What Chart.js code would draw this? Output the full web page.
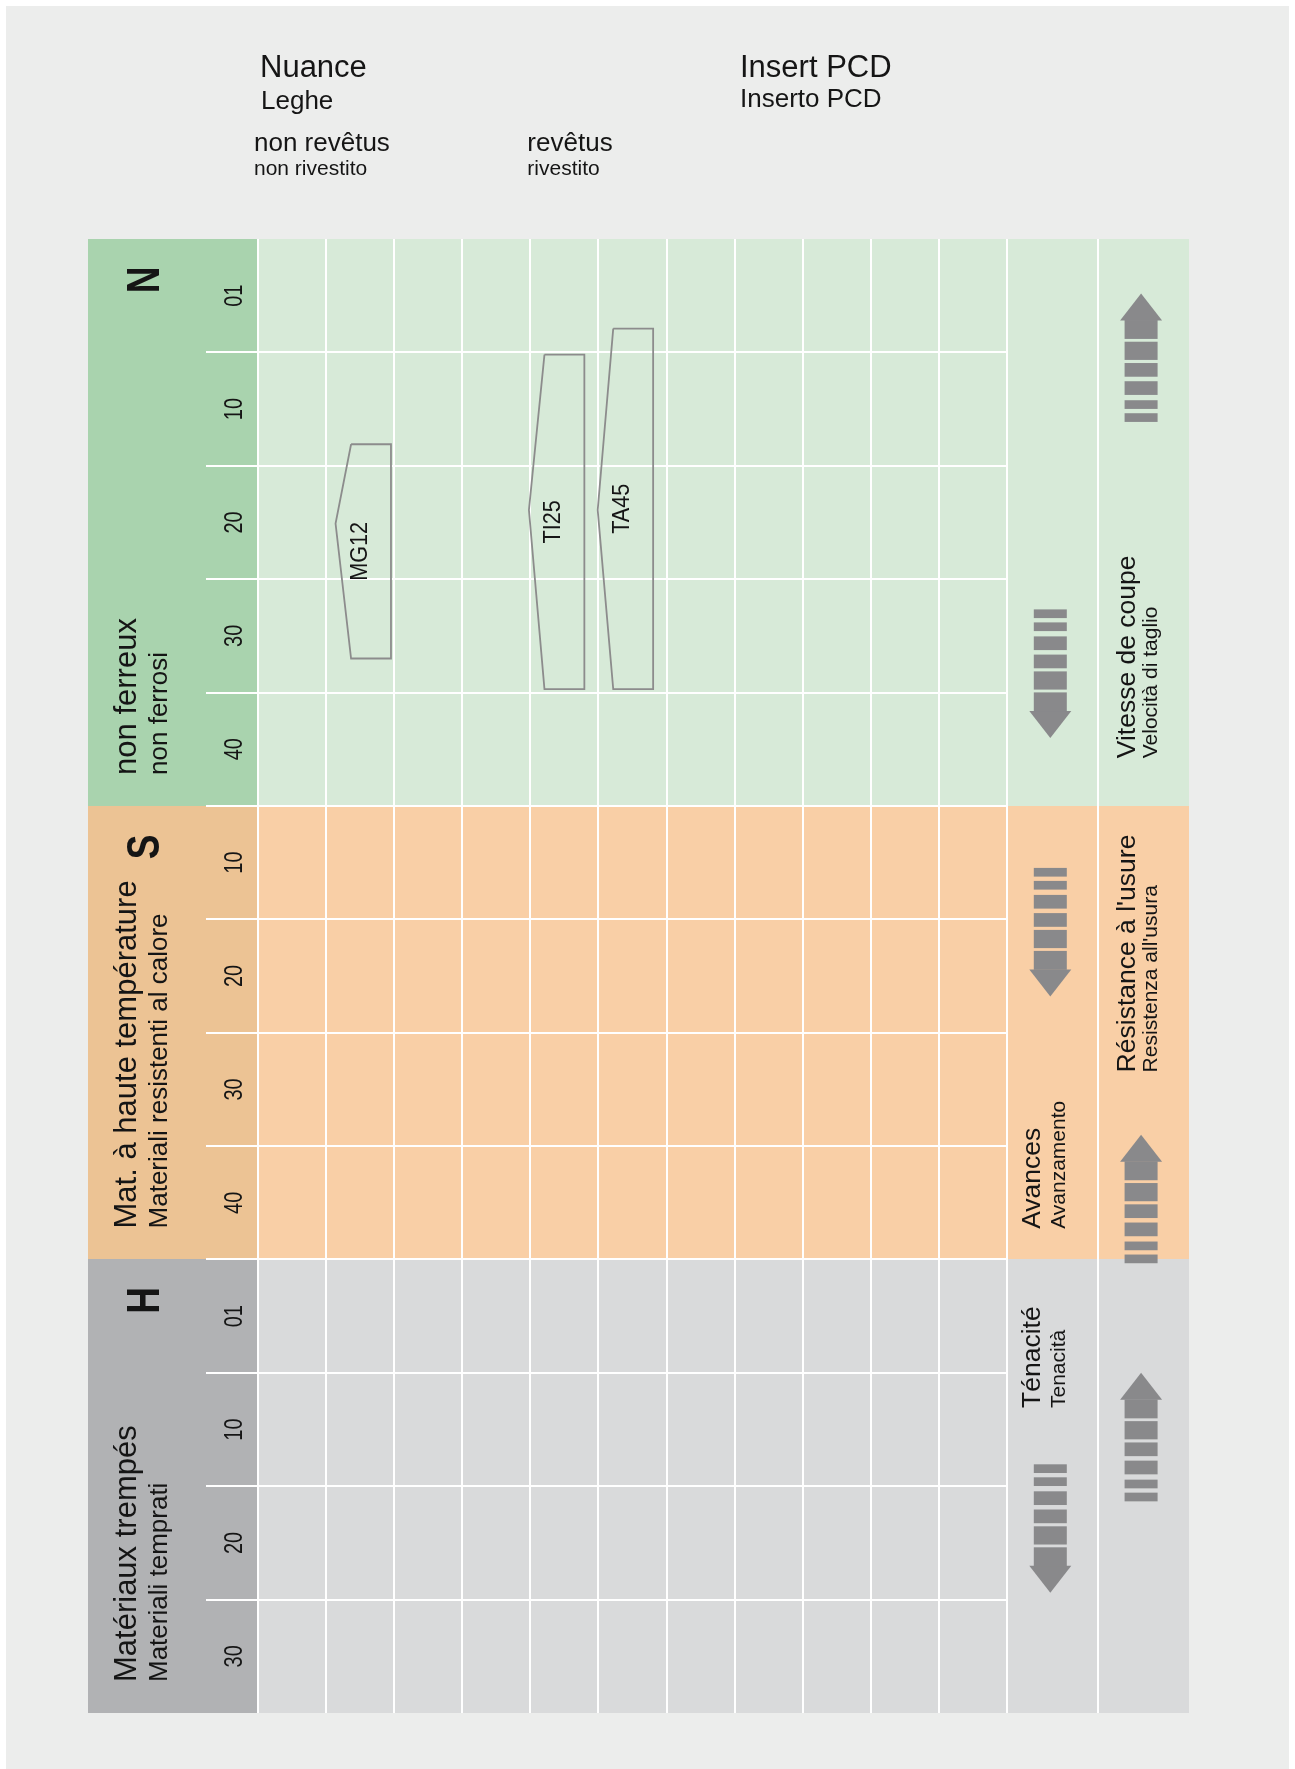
<!DOCTYPE html>
<html>
<head>
<meta charset="utf-8">
<script src="https://cdn.jsdelivr.net/npm/chart.js@4.4.1/dist/chart.umd.min.js"></script>
<style>
  html, body { margin: 0; padding: 0; background: #ffffff; }
  canvas { display: block; }
</style>
</head>
<body>
<canvas id="gradeChart" width="1295" height="1769"></canvas>
<script>
const Chart = window.Chart;

// material groups (ISO application groups)
const groupCodes = ['N', 'S', 'H'];
const groupNamesFr = ['non ferreux', 'Mat. à haute température', 'Matériaux trempés'];
const groupNamesIt = ['non ferrosi', 'Materiali resistenti al calore', 'Materiali temprati'];
const nRows = ['01', '10', '20', '30', '40'];
const sRows = ['10', '20', '30', '40'];
const hRows = ['01', '10', '20', '30'];

// grades: column position + application range (in rows, 0 = N01)
const gradeNames = ['MG12', 'TI25', 'TA45'];
const gradeColumn = [1.66, 4.50, 5.51];
const rangeStart = [1.31, 0.52, 0.29];
const rangeBest = [2.01, 1.89, 1.89];
const rangeEnd = [3.20, 3.47, 3.47];

// legend columns on the right
const legendFr = ['Vitesse de coupe', 'Avances', "Résistance à l'usure", 'Ténacité'];
const legendIt = ['Velocità di taglio', 'Avanzamento', "Resistenza all'usura", 'Tenacità'];

const columnCount = 11;
const rowLabels = [...nRows, ...sRows, ...hRows];
const groupRows = [nRows, sRows, hRows];

const groupColors = [
  { dark: '#a9d3ae', light: '#d7ead8' },
  { dark: '#ecc394', light: '#f9cfa6' },
  { dark: '#b1b2b4', light: '#d9dadb' }
];

const TEXT = '#151515';
const ARROW = '#89898b';
const FONT = '"Liberation Sans", Arial, sans-serif';
const HEAD_LEFT = -2.5;
const LEGEND_EDGES = [columnCount, columnCount + 4 / 3, columnCount + 8 / 3];
const HALF_W = 0.293;
const TIP = 0.228;

// legend placement (column 0/1, row value where the text starts)
const legendPlace = [
  { col: 1, row: 4.08 },
  { col: 0, row: 8.23 },
  { col: 1, row: 6.85 },
  { col: 0, row: 9.81 }
];
// arrows: column, row of the tip, direction (1 = down)
const arrowPlace = [
  { col: 0, tip: 3.90, dir: 1 },
  { col: 1, tip: -0.02, dir: -1 },
  { col: 0, tip: 6.18, dir: 1 },
  { col: 1, tip: 7.40, dir: -1 },
  { col: 0, tip: 11.44, dir: 1 },
  { col: 1, tip: 9.50, dir: -1 }
];
const BLOCKS = [[26.6, 45.5], [48.3, 66.5], [69.6, 83.3], [87.8, 101.5], [106.8, 115.5], [119.8, 128.5]];

// group row ranges
let start = 0;
const groups = groupRows.map((rows, i) => {
  const g = { first: start, last: start + rows.length - 1, ...groupColors[i] };
  start += rows.length;
  return g;
});

const polygons = gradeNames.map((name, i) => {
  const l = gradeColumn[i] - HALF_W;
  const r = gradeColumn[i] + HALF_W;
  return [
    { x: l, y: rangeStart[i] },
    { x: r, y: rangeStart[i] },
    { x: r, y: rangeEnd[i] },
    { x: l, y: rangeEnd[i] },
    { x: l - TIP, y: rangeBest[i] },
    { x: l, y: rangeStart[i] }
  ];
});

function vText(ctx, str, x, y, font, align, squeeze) {
  ctx.save();
  ctx.translate(x, y);
  ctx.rotate(-Math.PI / 2);
  if (squeeze) ctx.scale(squeeze, 1);
  ctx.font = font;
  ctx.textAlign = align;
  ctx.textBaseline = 'alphabetic';
  ctx.fillStyle = TEXT;
  ctx.fillText(str, 0, 0);
  ctx.restore();
}

function drawArrow(ctx, cx, tipY, dir) {
  const at = d => tipY - dir * d;
  ctx.fillStyle = ARROW;
  ctx.beginPath();
  ctx.moveTo(cx, tipY);
  ctx.lineTo(cx + 21, at(27));
  ctx.lineTo(cx - 21, at(27));
  ctx.closePath();
  ctx.fill();
  BLOCKS.forEach(([d0, d1]) => {
    const y0 = at(d0), y1 = at(d1);
    ctx.fillRect(cx - 16.5, Math.min(y0, y1), 33, Math.abs(y1 - y0));
  });
}

const isEdge = v => v <= -0.5 || v >= rowLabels.length - 0.5;

const backdrop = {
  id: 'backdrop',
  beforeDraw(chart) {
    const { ctx, chartArea: a, scales: { x, y } } = chart;
    ctx.save();
    ctx.fillStyle = '#ffffff';
    ctx.fillRect(0, 0, chart.width, chart.height);
    ctx.fillStyle = '#ecedec';
    ctx.fillRect(6, 6, chart.width - 12, chart.height - 6);

    const headLeft = Math.round(x.getPixelForValue(HEAD_LEFT));
    const right = Math.round(x.getPixelForValue(LEGEND_EDGES[2]));
    groups.forEach(g => {
      const top = Math.round(y.getPixelForValue(g.first - 0.5));
      const bot = Math.round(y.getPixelForValue(g.last + 0.5));
      ctx.fillStyle = g.dark;
      ctx.fillRect(headLeft, top, a.left - headLeft, bot - top);
      ctx.fillStyle = g.light;
      ctx.fillRect(a.left, top, right - a.left, bot - top);
    });
    ctx.restore();
  }
};

const decorations = {
  id: 'decorations',
  afterDraw(chart) {
    const { ctx, chartArea: a, scales: { x, y } } = chart;
    ctx.save();

    // separator between the two legend columns
    const sep = Math.round(x.getPixelForValue(LEGEND_EDGES[1]));
    ctx.fillStyle = '#ffffff';
    ctx.fillRect(sep - 1, a.top, 2, a.bottom - a.top);

    // header texts
    ctx.fillStyle = TEXT;
    ctx.textBaseline = 'alphabetic';
    ctx.textAlign = 'left';
    const c0 = x.getPixelForValue(0);
    const c4 = x.getPixelForValue(4);
    ctx.font = '31px ' + FONT;
    ctx.fillText('Nuance', c0 + 2, 77);
    ctx.fillText('Insert PCD', 740, 77);
    ctx.font = '26px ' + FONT;
    ctx.fillText('Leghe', c0 + 3, 109);
    ctx.fillText('Inserto PCD', 740, 107);
    ctx.fillText('non revêtus', c0 - 4, 151);
    ctx.fillText('revêtus', c4 - 3, 151);
    ctx.font = '21px ' + FONT;
    ctx.fillText('non rivestito', c0 - 4, 175);
    ctx.fillText('rivestito', c4 - 3, 175);

    // group headers
    groups.forEach((g, i) => {
      const top = y.getPixelForValue(g.first - 0.5);
      const bot = y.getPixelForValue(g.last + 0.5);
      vText(ctx, groupNamesFr[i], 135.5, bot - 31, '31px ' + FONT, 'left');
      vText(ctx, groupNamesIt[i], 167, bot - 31, '26px ' + FONT, 'left');
      vText(ctx, groupCodes[i], 159, top + 41, 'bold 47px ' + FONT, 'center', 0.785);
    });

    // row labels
    rowLabels.forEach((lab, i) => {
      vText(ctx, lab, a.left - 16, y.getPixelForValue(i), '25px ' + FONT, 'center', 0.8);
    });

    // grade labels
    gradeNames.forEach((name, i) => {
      const px = x.getPixelForValue(gradeColumn[i]) - 4;
      const py = y.getPixelForValue((rangeStart[i] + rangeEnd[i]) / 2);
      vText(ctx, name, px, py, '24px ' + FONT, 'center', 0.9);
    });

    // legend texts
    const colLeft = [x.getPixelForValue(LEGEND_EDGES[0]), x.getPixelForValue(LEGEND_EDGES[1])];
    const bigOff = [33, 37];
    const smallOff = [58, 59];
    legendPlace.forEach((p, i) => {
      const py = y.getPixelForValue(p.row);
      vText(ctx, legendFr[i], colLeft[p.col] + bigOff[p.col], py, '26.5px ' + FONT, 'left');
      vText(ctx, legendIt[i], colLeft[p.col] + smallOff[p.col], py, '21px ' + FONT, 'left');
    });

    // arrows
    arrowPlace.forEach(p => {
      const cx = colLeft[p.col] + 43.3;
      drawArrow(ctx, cx, y.getPixelForValue(p.tip), p.dir);
    });

    ctx.restore();
  }
};

new Chart(document.getElementById('gradeChart'), {
  type: 'scatter',
  data: {
    datasets: polygons.map((pts, i) => ({
      label: gradeNames[i],
      data: pts,
      showLine: true,
      fill: false,
      borderColor: '#8c8c8c',
      borderWidth: 1.8,
      borderJoinStyle: 'miter',
      pointRadius: 0,
      pointHoverRadius: 0,
      tension: 0
    }))
  },
  options: {
    responsive: false,
    maintainAspectRatio: false,
    devicePixelRatio: 1,
    animation: false,
    layout: { padding: { left: 206, right: 288, top: 239, bottom: 56 } },
    plugins: {
      legend: { display: false },
      tooltip: { enabled: false },
      title: { display: false }
    },
    scales: {
      x: {
        type: 'linear',
        position: 'top',
        min: 0,
        max: columnCount,
        ticks: { display: false, stepSize: 1 },
        grid: { color: '#ffffff', lineWidth: 2, drawTicks: false },
        border: { display: false }
      },
      y: {
        type: 'linear',
        reverse: true,
        min: -0.5,
        max: rowLabels.length - 0.5,
        afterBuildTicks: scale => {
          scale.ticks = rowLabels.map((l, i) => ({ value: i - 0.5 }))
            .concat([{ value: rowLabels.length - 0.5 }]);
        },
        ticks: { display: false },
        grid: {
          color: c => isEdge(c.tick.value) ? 'rgba(0,0,0,0)' : '#ffffff',
          tickColor: c => isEdge(c.tick.value) ? 'rgba(0,0,0,0)' : '#ffffff',
          lineWidth: 2,
          drawTicks: true,
          tickLength: 52
        },
        border: { display: false }
      }
    }
  },
  plugins: [backdrop, decorations]
});
</script>
</body>
</html>
